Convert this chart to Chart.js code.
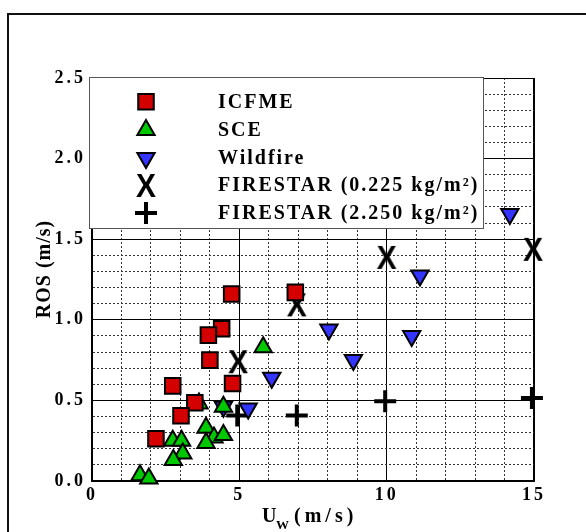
<!DOCTYPE html>
<html><head><meta charset="utf-8">
<script src="https://cdn.jsdelivr.net/npm/chart.js@4.4.1/dist/chart.umd.min.js"></script>
<style>
html,body{margin:0;padding:0;background:#fff;overflow:hidden;}
#wrap{position:relative;width:586px;height:532px;overflow:hidden;}
#frame{position:absolute;left:7px;top:13px;width:700px;height:700px;border:2px solid #111;}
canvas{position:absolute;left:0;top:0;}
</style></head><body>
<div id="wrap"><div id="frame"></div><canvas id="c" width="586" height="532"></canvas></div>
<script>
// ---- data ----
const seriesNames = ['ICFME', 'SCE', 'Wildfire', 'FIRESTAR (0.225 kg/m²)', 'FIRESTAR (2.250 kg/m²)'];
const icfmeX = [4.74, 6.90, 4.40, 3.95, 4.00, 4.77, 2.74, 3.49, 3.02, 2.17];
const icfmeY = [1.16, 1.17, 0.945, 0.905, 0.75, 0.605, 0.59, 0.485, 0.405, 0.262];
const sceX = [5.81, 3.63, 4.46, 3.87, 4.14, 4.46, 3.87, 2.74, 3.04, 3.08, 2.76, 1.63, 1.93];
const sceY = [0.83, 0.48, 0.46, 0.33, 0.27, 0.285, 0.235, 0.25, 0.25, 0.17, 0.13, 0.035, 0.015];
const wildX = [11.13, 8.04, 10.85, 8.87, 6.10, 5.30, 4.46, 14.18];
const wildY = [1.275, 0.94, 0.90, 0.75, 0.64, 0.45, 0.46, 1.657];
const fs225X = [4.96, 6.95, 10.0, 14.97];
const fs225Y = [0.743, 1.096, 1.39, 1.44];
const fs2250X = [4.93, 6.95, 9.95, 14.93];
const fs2250Y = [0.407, 0.407, 0.494, 0.515];
const xTickLabels = [0, 5, 10, 15];
const yTickLabels = ['0.0', '0.5', '1.0', '1.5', '2.0', '2.5'];
const xTitleMain = 'U', xTitleSub = 'W', xTitleRest = ' (m/s)';
const yTitle = 'ROS (m/s)';

const serif = '"Liberation Serif", "Times New Roman", serif';
const pts = (xs, ys) => xs.map((x, i) => ({x: x, y: ys[i]}));
const isMajorX = v => Math.abs(v / 5 - Math.round(v / 5)) < 1e-6;
const isMajorY = v => Math.abs(v * 2 - Math.round(v * 2)) < 1e-6;

function makeX() {
  const c = document.createElement('canvas');
  c.width = 24; c.height = 28;
  const g = c.getContext('2d');
  g.fillStyle = '#000';
  g.font = 'bold 34px "Liberation Sans", Arial, sans-serif';
  g.textAlign = 'center'; g.textBaseline = 'alphabetic';
  g.translate(12, 0); g.scale(0.88, 1);
  g.fillText('X', 0, 26);
  return c;
}
const xImg = makeX();

const legendRows = [101.7, 130, 158, 185, 213];

const overlay = {
  id: 'overlay',
  beforeDraw(chart) { chart.ctx.letterSpacing = '3px'; },
  afterDatasetsDraw(chart) {
    const ctx = chart.ctx;
    ctx.save();
    // legend box
    ctx.fillStyle = '#fff';
    ctx.fillRect(90, 77, 394, 151);
    ctx.strokeStyle = '#555'; ctx.lineWidth = 1;
    ctx.strokeRect(89.5, 77.5, 394, 151);
    chart.data.datasets.forEach((ds, i) => {
      const y = legendRows[i];
      ctx.save();
      ctx.fillStyle = ds.backgroundColor; ctx.strokeStyle = ds.borderColor;
      ctx.lineWidth = ds.borderWidth;
      Chart.helpers.drawPoint(ctx, {pointStyle: ds.pointStyle, radius: ds.pointRadius,
        rotation: ds.pointRotation || 0, borderWidth: ds.borderWidth}, 146, y);
      ctx.restore();
      ctx.fillStyle = '#000';
      ctx.font = 'bold 20px ' + serif;
      ctx.letterSpacing = '2px';
      ctx.textAlign = 'left'; ctx.textBaseline = 'middle';
      ctx.fillText(ds.label, 218, y + 1);
    });
    // y title
    ctx.save();
    ctx.translate(45, 269);
    ctx.rotate(-Math.PI / 2);
    ctx.font = 'bold 20px ' + serif;
    ctx.letterSpacing = '1px';
    ctx.textAlign = 'center'; ctx.textBaseline = 'middle';
    ctx.fillText(yTitle, 0, 0);
    ctx.restore();
    // x title with subscript
    ctx.textAlign = 'left'; ctx.textBaseline = 'alphabetic';
    ctx.letterSpacing = '0px';
    ctx.font = 'bold 20px ' + serif;
    ctx.fillText(xTitleMain, 262, 522);
    ctx.font = 'bold 13px ' + serif;
    ctx.fillText(xTitleSub, 276, 529);
    ctx.font = 'bold 20px ' + serif;
    ctx.letterSpacing = '4px';
    ctx.fillText(xTitleRest, 285, 522);
    ctx.restore();
  }
};

new Chart(document.getElementById('c'), {
  type: 'scatter',
  data: {
    datasets: [
      {label: seriesNames[0], data: pts(icfmeX, icfmeY), pointStyle: 'rect', pointRadius: 11,
       backgroundColor: '#d40000', borderColor: '#000', borderWidth: 2},
      {label: seriesNames[1], data: pts(sceX, sceY), pointStyle: 'triangle', pointRadius: 10,
       backgroundColor: '#00c800', borderColor: '#000', borderWidth: 2},
      {label: seriesNames[2], data: pts(wildX, wildY), pointStyle: 'triangle', pointRotation: 180, pointRadius: 10,
       backgroundColor: '#3434ff', borderColor: '#000', borderWidth: 2},
      {label: seriesNames[3], data: pts(fs225X, fs225Y), pointStyle: xImg, pointRadius: 12,
       backgroundColor: '#000', borderColor: '#000', borderWidth: 0},
      {label: seriesNames[4], data: pts(fs2250X, fs2250Y), pointStyle: 'cross', pointRadius: 11,
       backgroundColor: '#000', borderColor: '#000', borderWidth: 4}
    ].map(d => Object.assign(d, {clip: false, pointHoverRadius: d.pointRadius}))
  },
  options: {
    responsive: false,
    animation: false,
    events: [],
    layout: {padding: {top: 78, right: 52, left: 0, bottom: 0}},
    plugins: {legend: {display: false}, tooltip: {enabled: false}},
    scales: {
      x: {
        type: 'linear', min: 0, max: 15,
        ticks: {stepSize: 1, autoSkip: false, maxRotation: 0, padding: 4, color: '#000',
          font: {family: serif, size: 18, weight: 'bold'},
          callback: v => (isMajorX(v) && xTickLabels.includes(Math.round(v))) ? String(Math.round(v)) : ''},
        grid: {drawTicks: false,
          color: c => (c.tick && isMajorX(c.tick.value)) ? '#000' : '#333',
          lineWidth: c => (c.tick && c.tick.value === 15) ? 2 : 1},
        border: {color: '#000', width: 2,
          dash: c => (c.tick && !isMajorX(c.tick.value)) ? [2, 2] : []},
        afterFit: s => { s.height = 51; }
      },
      y: {
        type: 'linear', min: 0, max: 2.5,
        ticks: {stepSize: 0.1, autoSkip: false, padding: 6, color: '#000',
          font: {family: serif, size: 18, weight: 'bold'},
          callback: v => isMajorY(v) ? yTickLabels[Math.round(v * 2)] : ''},
        grid: {drawTicks: false,
          color: c => (c.tick && isMajorY(c.tick.value)) ? '#000' : '#333',
          lineWidth: 1},
        border: {color: '#000', width: 2,
          dash: c => (c.tick && !isMajorY(c.tick.value)) ? [2, 2] : []},
        afterFit: s => { s.width = 92; }
      }
    }
  },
  plugins: [overlay]
});
</script>
</body></html>
